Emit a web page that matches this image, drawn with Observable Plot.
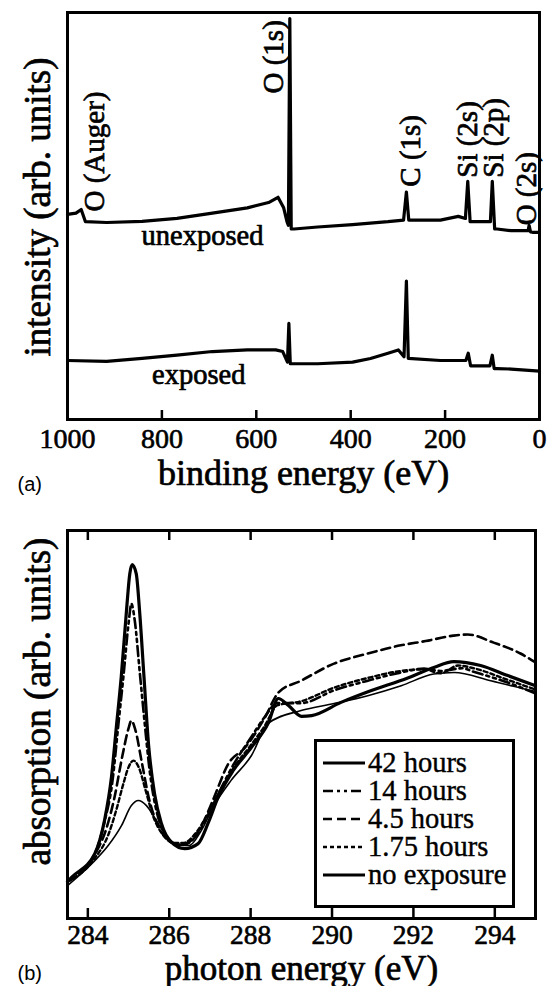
<!DOCTYPE html>
<html>
<head>
<meta charset="utf-8">
<script src="https://cdn.jsdelivr.net/npm/d3@7"></script>
<script src="https://cdn.jsdelivr.net/npm/@observablehq/plot@0.6"></script>
<style>
  body { margin: 0; background: #fff; }
  #wrap { position: relative; width: 551px; }
  svg { display: block; }
  #pb { position: relative; }
  #legend {
    position: absolute; left: 314px; top: 239px; width: 195px; height: 156px;
    border: 3px solid #000; background: #fff; padding-top: 7px; box-sizing: content-box;
    font-family: "Liberation Serif", "Times New Roman", serif; font-size: 28.5px; color: #000;
    -webkit-text-stroke: 0.4px #000;
  }
  #legend .row { display: flex; align-items: center; height: 28px; white-space: nowrap; }
  #legend .row svg { margin-left: 6px; margin-right: 3px; flex: none; }
</style>
</head>
<body>
<div id="wrap">
  <div id="pa"></div>
  <div id="pb"></div>
</div>
<script>
// ---------- Panel (a): XPS survey ----------
const ticksA = [1000, 800, 600, 400, 200, 0];
const unexposedE = [1000, 982, 971, 962, 917, 842, 768, 693, 619, 574, 554, 542, 535, 532, 529, 526, 520, 470, 396, 321, 288, 282, 277, 210, 172, 157, 152, 147, 142, 104, 100, 95, 90, 60, 24, 22, 19, 15, 0];
const unexposedI = [50.4, 50.7, 51.6, 48.6, 48.4, 48.7, 49.4, 50.7, 52, 53.3, 54.6, 52, 48.6, 47.7, 98.5, 46.8, 46.8, 47.3, 47.9, 48.6, 49, 55.9, 49, 49, 49.9, 49.4, 58.5, 48.6, 48.6, 48.6, 58.5, 46.8, 46.8, 46.4, 46.4, 47.7, 46.1, 46, 46];
const exposedE = [1000, 917, 842, 768, 693, 619, 559, 544, 534, 531, 528, 470, 396, 358, 321, 299, 287, 282, 278, 210, 172, 156, 151, 146, 142, 105, 100, 96, 90, 60, 0];
const exposedI = [14.5, 14.3, 15, 15.8, 16.7, 17.1, 17.1, 16.7, 14.1, 23.6, 13.7, 13.7, 14.1, 15, 16.3, 17.1, 15.4, 34, 15, 14.5, 14.5, 14.5, 16.3, 13.2, 13.2, 13.2, 15.8, 12.5, 12.5, 12.4, 11.9];
const peakLabels = ["O (Auger)", "O (1s)", "C (1s)", "Si (2s)", "Si (2p)", "O (2s)"];
const peakLabelE = [943, 563, 273, 153, 97.5, 27];
const peakLabelI = [51.1, 80.1, 57.2, 59.4, 59.4, 47.7];
const curveLabels = ["unexposed", "exposed"];
const curveLabelE = [714, 722];
const curveLabelI = [45.2, 10.9];

// ---------- Panel (b): NEXAFS ----------
const ticksB = [284, 286, 288, 290, 292, 294];
const seriesNames = ["42 hours", "14 hours", "4.5 hours", "1.75 hours", "no exposure"];
const e42 = [283.5, 283.6, 284.17, 284.41, 284.58, 284.70, 284.82, 284.95, 285.03, 285.09, 285.19, 285.27, 285.38, 285.49, 285.64, 285.81, 286.05, 286.38, 286.71, 286.96, 287.2, 287.57, 288.02, 288.44, 288.68, 288.93, 289.25, 289.5, 290.22, 290.9, 291.86, 292.5, 292.99, 293.65, 294.32, 295];
const a42 = [9.5, 10.6, 16.7, 25.3, 36.4, 49.3, 62.2, 79.4, 88.8, 91.2, 88.8, 79.4, 62.2, 45, 32.1, 24.4, 19.7, 18, 19.3, 24.7, 31.2, 38.1, 44.1, 50.5, 56.7, 54.9, 52.1, 52.3, 55.7, 58.5, 62, 64.7, 66.2, 65.2, 62.6, 60];
const e14 = [283.5, 284.17, 284.41, 284.6, 284.75, 284.88, 285.0, 285.07, 285.15, 285.28, 285.4, 285.52, 285.66, 285.85, 286.1, 286.33, 286.6, 286.9, 287.2, 287.57, 288.0, 288.35, 288.65, 289.24, 290.05, 290.88, 291.69, 292.26, 292.67, 293.2, 293.48, 294.32, 295];
const a14 = [9.5, 16.7, 25, 35, 50, 63, 76, 81.1, 77, 63, 50, 38, 29, 22.5, 19.5, 19, 20.5, 25.5, 32, 39.5, 46.5, 52, 55.5, 55.5, 58.8, 61.3, 63.4, 64.4, 63.8, 64.5, 63.6, 60.8, 58];
const e45 = [283.5, 284.17, 284.45, 284.65, 284.85, 285.0, 285.07, 285.17, 285.33, 285.5, 285.7, 285.95, 286.25, 286.5, 286.8, 287.07, 287.46, 287.86, 288.35, 288.68, 289.24, 290.05, 290.88, 291.69, 292.3, 292.98, 293.33, 293.97, 294.63, 295];
const a45 = [9.5, 16.5, 23, 31, 42, 49, 51, 48.5, 40, 31, 24.5, 20.5, 19, 19.8, 24, 30.4, 40, 44, 51.8, 58.2, 61.3, 65.7, 68.3, 70.4, 71.5, 72.9, 73.2, 71.1, 68.3, 66];
const e175 = [283.5, 284.17, 284.5, 284.7, 284.88, 285.0, 285.12, 285.25, 285.42, 285.6, 285.85, 286.1, 286.35, 286.65, 286.95, 287.25, 287.62, 288.0, 288.35, 288.65, 289.24, 290.05, 290.88, 291.69, 292.26, 292.67, 293.1, 293.48, 294.32, 295];
const a175 = [9.5, 15.5, 21.5, 28, 35, 39, 40.7, 39, 33, 26.5, 21.5, 19.5, 19.5, 22, 27, 33, 39.4, 44.6, 49.7, 54.9, 56, 59.5, 62, 63.8, 64.2, 63.2, 65.2, 64.5, 61.5, 59];
const e0 = [283.5, 284.17, 284.5, 284.83, 285.07, 285.24, 285.44, 285.68, 285.93, 286.22, 286.49, 286.79, 287.1, 287.52, 288.02, 288.43, 289.24, 290.05, 290.9, 291.7, 292.5, 293.0, 293.9, 294.88, 295];
const a0 = [8.5, 14.9, 18.8, 24, 29.1, 30.4, 29.1, 25.3, 21.4, 18.8, 18.8, 22.7, 29.1, 35.6, 42, 50.3, 53.6, 55.4, 57.5, 60, 63, 63.4, 61.3, 58.8, 58.5];

const serif = '"Liberation Serif", "Times New Roman", serif';
const sans = '"Liberation Sans", Arial, sans-serif';
const zip = (xs, ys) => xs.map((x, i) => ({x, y: ys[i]}));
const ink = {fill: "#000", stroke: "#000", strokeWidth: 0.7};

const styleA = [
  {dash: null, width: 3.2},
  {dash: "10,4,3,4,3,4", width: 2.6},
  {dash: "9,5", width: 2.6},
  {dash: "4,3", width: 2.4},
  {dash: null, width: 1.6}
];
const seriesData = [zip(e42, a42), zip(e14, a14), zip(e45, a45), zip(e175, a175), zip(e0, a0)];

// Panel (a)
const HA = 500, mTA = 12, mBA = 81;
const plotA = Plot.plot({
  width: 551, height: HA,
  marginTop: mTA, marginBottom: mBA, marginLeft: 67, marginRight: 12,
  style: {fontFamily: serif, fontSize: "28px", color: "#000", background: "#fff", overflow: "visible"},
  x: {domain: [1000, 0]},
  y: {domain: [0, 100], axis: null},
  marks: [
    Plot.tickX(ticksA.slice(1, -1), {x: d => d, insetTop: HA - mTA - mBA - 9, stroke: "#000", strokeWidth: 2.5}),
    Plot.axisX({ticks: ticksA, tickSize: 0, tickPadding: 9, tickFormat: d => String(d), label: null, fontSize: 28, textStroke: "#000", textStrokeWidth: 0.6}),
    Plot.line(zip(unexposedE, unexposedI), {x: "x", y: "y", stroke: "#000", strokeWidth: 3.2, strokeLinejoin: "round"}),
    Plot.line(zip(exposedE, exposedI), {x: "x", y: "y", stroke: "#000", strokeWidth: 3.2, strokeLinejoin: "round"}),
    Plot.text(peakLabels, {x: (d, i) => peakLabelE[i], y: (d, i) => peakLabelI[i], text: d => d, rotate: -90, textAnchor: "start", lineAnchor: "middle", fontSize: 29, ...ink}),
    Plot.text(curveLabels, {x: (d, i) => curveLabelE[i], y: (d, i) => curveLabelI[i], text: d => d, textAnchor: "middle", lineAnchor: "middle", fontSize: 28.5, ...ink}),
    Plot.text(["binding energy (eV)"], {frameAnchor: "bottom", textAnchor: "middle", lineAnchor: "middle", dy: 54, fontSize: 36, ...ink}),
    Plot.text(["intensity (arb. units)"], {frameAnchor: "left", rotate: -90, textAnchor: "middle", lineAnchor: "middle", dx: -29, dy: -9, fontSize: 37, ...ink, ariaLabel: "y-title"}),
    Plot.text(["(a)"], {frameAnchor: "bottom-left", textAnchor: "start", lineAnchor: "middle", dx: -50, dy: 65, fontSize: 20, fontFamily: sans, fill: "#000"}),
    Plot.frame({stroke: "#000", strokeWidth: 3})
  ]
});

// Panel (b)
const HB = 486, mTB = 30, mBB = 68;
const plotB = Plot.plot({
  width: 551, height: HB,
  marginTop: mTB, marginBottom: mBB, marginLeft: 67, marginRight: 16,
  style: {fontFamily: serif, fontSize: "28px", color: "#000", background: "#fff", overflow: "visible"},
  x: {domain: [283.5, 295]},
  y: {domain: [0, 100], axis: null},
  marks: [
    Plot.tickX(ticksB, {x: d => d, insetTop: HB - mTB - mBB - 10, stroke: "#000", strokeWidth: 2.5}),
    Plot.tickX(ticksB, {x: d => d, insetBottom: HB - mTB - mBB - 10, stroke: "#000", strokeWidth: 2.5}),
    Plot.axisX({ticks: ticksB, tickSize: 0, tickPadding: 6, tickFormat: d => String(d), label: null, fontSize: 27.5, textStroke: "#000", textStrokeWidth: 0.6}),
    ...seriesData.map((data, i) => Plot.line(data, {
      x: "x", y: "y", stroke: "#000", strokeWidth: styleA[i].width,
      strokeDasharray: styleA[i].dash, curve: "monotone-x", strokeLinejoin: "round"
    })),
    Plot.text(["photon energy (eV)"], {frameAnchor: "bottom", textAnchor: "middle", lineAnchor: "middle", dy: 50, fontSize: 35, ...ink}),
    Plot.text(["absorption (arb. units)"], {frameAnchor: "left", rotate: -90, textAnchor: "middle", lineAnchor: "middle", dx: -29, dy: -23, fontSize: 37, ...ink, ariaLabel: "y-title"}),
    Plot.text(["(b)"], {frameAnchor: "bottom-left", textAnchor: "start", lineAnchor: "middle", dx: -50, dy: 55, fontSize: 20, fontFamily: sans, fill: "#000"}),
    Plot.frame({stroke: "#000", strokeWidth: 3})
  ]
});

for (const [svg, len] of [[plotA, 375], [plotB, 377]]) {
  svg.querySelectorAll('g[aria-label="y-title"] text').forEach(t => {
    t.setAttribute("textLength", len);
    t.setAttribute("lengthAdjust", "spacingAndGlyphs");
  });
}

document.getElementById("pa").append(plotA);
const pb = document.getElementById("pb");
pb.append(plotB);

// Legend (inside panel b)
const legend = document.createElement("div");
legend.id = "legend";
seriesNames.forEach((name, i) => {
  const row = document.createElement("div");
  row.className = "row";
  const sw = d3.create("svg").attr("width", 42).attr("height", 28);
  sw.append("line").attr("x1", 0).attr("x2", 42).attr("y1", 14).attr("y2", 14)
    .attr("stroke", "#000").attr("stroke-width", i === 4 ? 3 : styleA[i].width)
    .attr("stroke-dasharray", styleA[i].dash);
  row.append(sw.node());
  const span = document.createElement("span");
  span.textContent = name;
  row.append(span);
  legend.append(row);
});
pb.append(legend);
</script>
</body>
</html>
